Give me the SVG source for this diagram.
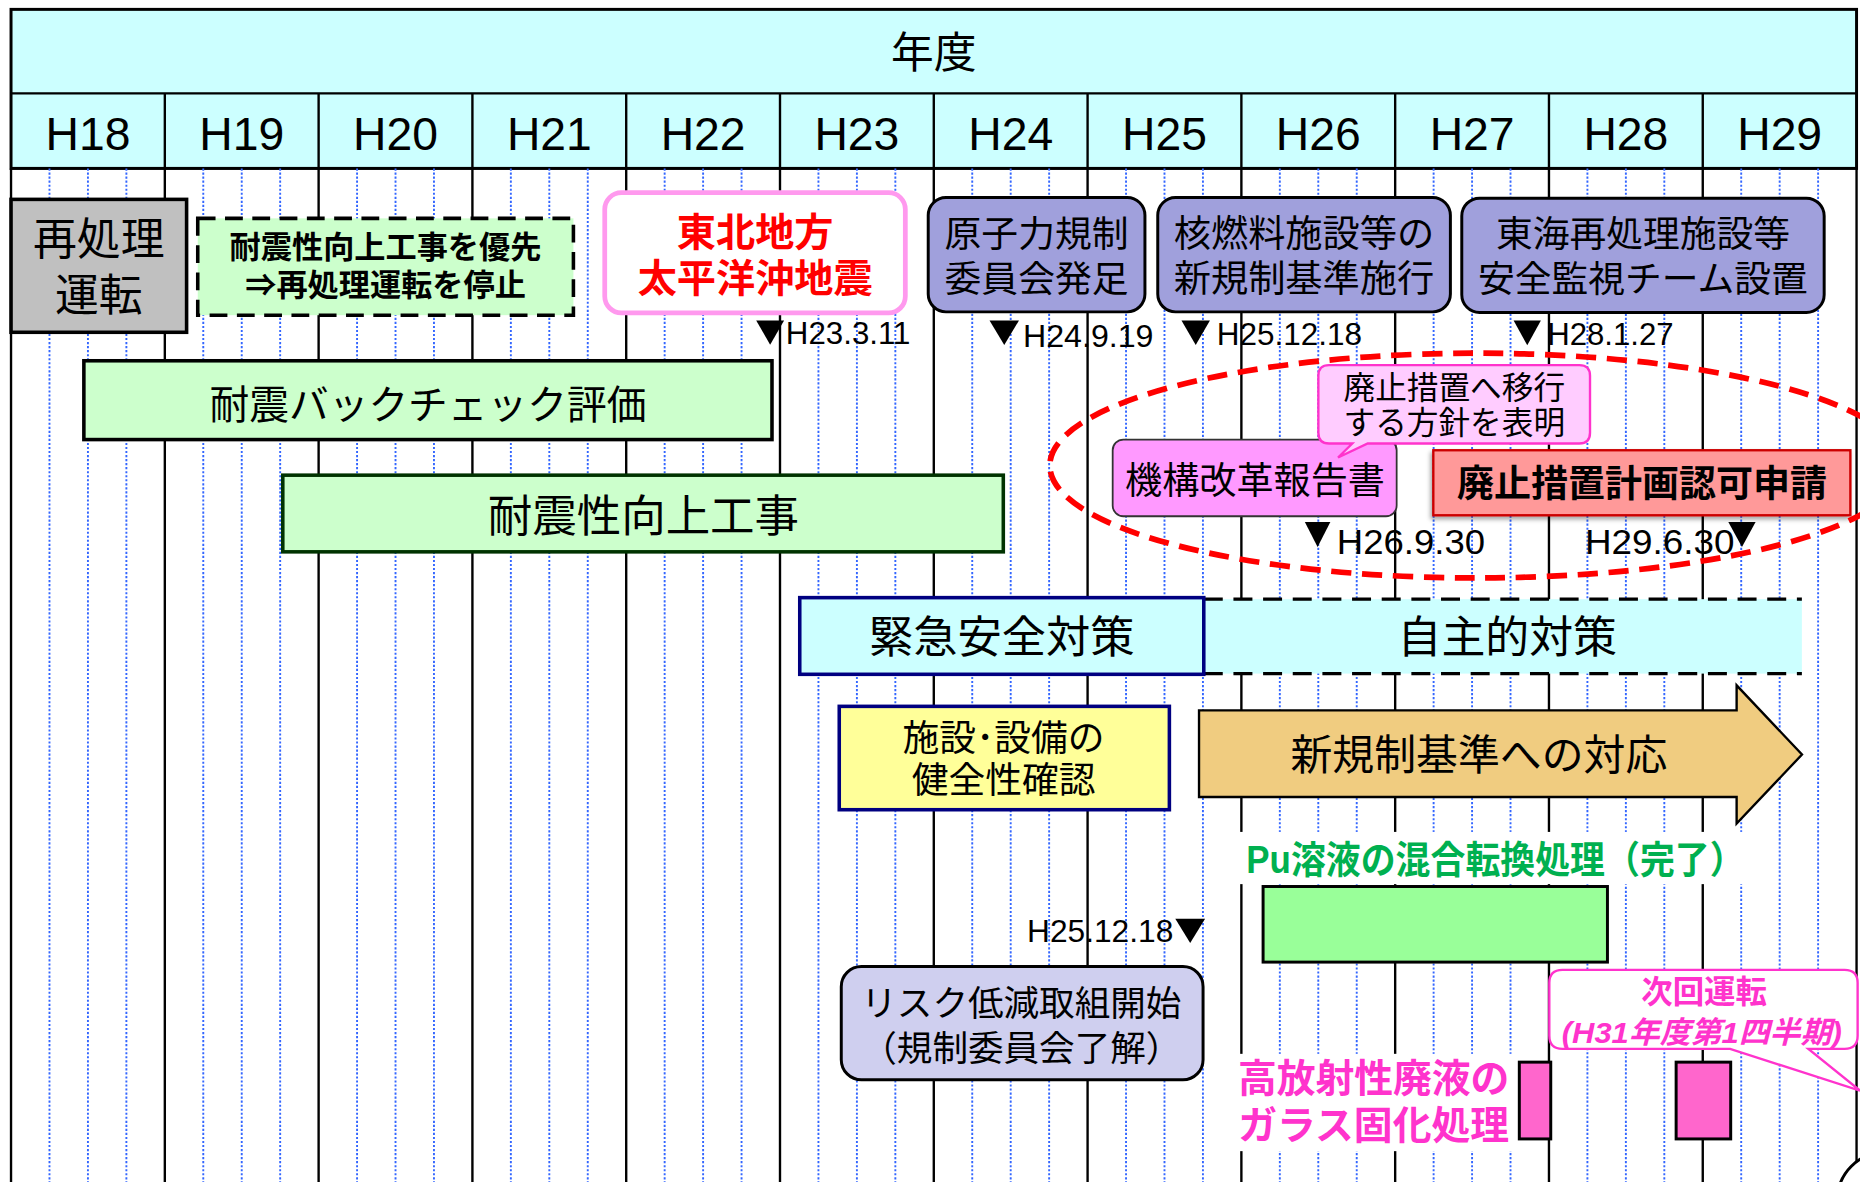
<svg xmlns="http://www.w3.org/2000/svg" width="1860" height="1182" viewBox="0 0 1860 1182">
<defs>
<style>
.cjk{font-family:"Noto Sans CJK JP","Noto Sans CJK SC",sans-serif}
.lat{font-family:"Liberation Sans",Arial,sans-serif}
.mix{font-family:"Liberation Sans","Noto Sans CJK JP",sans-serif}
text{text-anchor:middle;fill:#000}
.st{text-anchor:start}
.b{font-weight:bold}
.solid{stroke:#000;stroke-width:2;fill:none}
.dot{stroke:#3366FF;stroke-width:1.6;stroke-dasharray:1.8 1.6;fill:none}
.tri{fill:#000}
.green{fill:#CCFFCC}
.purple{fill:#A0A0DC;stroke:#000;stroke-width:2.5}
</style>
<filter id="sh" x="-10%" y="-30%" width="120%" height="160%">
<feDropShadow dx="-1.5" dy="2.5" stdDeviation="2" flood-color="#000" flood-opacity="0.35"/>
</filter>
</defs>
<rect x="0" y="0" width="1860" height="1182" fill="#fff"/>
<g transform="scale(1.18622,1.18675)">
<g id="header">
<rect x="9.3" y="7.9" width="1555.8" height="134" fill="#CCFFFF" stroke="#000" stroke-width="2.5"/>
<path class="solid" d="M9.3 78.7H1565.1M9.3 141.9H1565.1M138.95 78.7V141.9M268.6 78.7V141.9M398.25 78.7V141.9M527.9 78.7V141.9M657.55 78.7V141.9M787.2 78.7V141.9M916.85 78.7V141.9M1046.5 78.7V141.9M1176.15 78.7V141.9M1305.8 78.7V141.9M1435.45 78.7V141.9" stroke-width="2.5"/>
<text class="cjk" x="787.2" y="57.5" font-size="36">年度</text>
<g class="lat" font-size="39">
<text x="74.13" y="126">H18</text>
<text x="203.78" y="126">H19</text>
<text x="333.43" y="126">H20</text>
<text x="463.08" y="126">H21</text>
<text x="592.73" y="126">H22</text>
<text x="722.38" y="126">H23</text>
<text x="852.03" y="126">H24</text>
<text x="981.68" y="126">H25</text>
<text x="1111.33" y="126">H26</text>
<text x="1240.98" y="126">H27</text>
<text x="1370.63" y="126">H28</text>
<text x="1500.28" y="126">H29</text>
</g>
</g>
<g id="grid">
<path class="dot" d="M41.71 142V1000M74.13 142V1000M106.54 142V1000M171.36 142V1000M203.78 142V1000M236.19 142V1000M301.01 142V1000M333.43 142V1000M365.84 142V1000M430.66 142V1000M463.08 142V1000M495.49 142V1000M560.31 142V1000M592.73 142V1000M625.14 142V1000M689.96 142V1000M722.38 142V1000M754.79 142V1000M819.61 142V1000M852.03 142V1000M884.44 142V1000M949.26 142V1000M981.68 142V1000M1014.09 142V1000M1078.91 142V1000M1111.33 142V1000M1143.74 142V1000M1208.56 142V1000M1240.98 142V1000M1273.39 142V1000M1338.21 142V1000M1370.63 142V1000M1403.04 142V1000M1467.86 142V1000M1500.28 142V1000M1532.69 142V1000"/>
<path class="solid" d="M138.95 142V1000M268.6 142V1000M398.25 142V1000M527.9 142V1000M657.55 142V1000M787.2 142V1000M916.85 142V1000M1046.5 142V1000M1176.15 142V1000M1305.8 142V1000M1435.45 142V1000"/>
<path class="solid" d="M9.3 142V1000M1565.1 142V1000" stroke-width="2.5"/>
<rect x="1042" y="701" width="430" height="44" fill="#fff"/>
<rect x="1032" y="888" width="246" height="82" fill="#fff"/>
</g>
<g id="saishori-unten">
<rect x="9.3" y="168" width="148" height="112" fill="#C0C0C0" stroke="#000" stroke-width="3"/>
<text class="cjk" x="83.3" y="215" font-size="37">再処理</text>
<text class="cjk" x="83.3" y="262" font-size="37">運転</text>
</g>
<g id="yusen">
<rect x="166.7" y="184" width="316.7" height="81.6" class="green" stroke="#000" stroke-width="3" stroke-dasharray="15 8"/>
<text class="cjk b" x="325" y="217" font-size="26.3">耐震性向上工事を優先</text>
<text class="cjk b" x="325" y="249.5" font-size="26.3">⇒再処理運転を停止</text>
</g>
<g id="jishin">
<rect x="509.8" y="162.4" width="253.4" height="101.2" rx="14" fill="#fff" stroke="#FF99EE" stroke-width="4"/>
<text class="cjk b" x="636.6" y="207" font-size="33" style="fill:#FF0000">東北地方</text>
<text class="cjk b" x="636.6" y="246" font-size="33" style="fill:#FF0000">太平洋沖地震</text>
</g>
<g id="kisei-iinkai">
<rect x="782.5" y="166.4" width="182.7" height="96.4" rx="15" class="purple"/>
<text class="cjk" x="873.8" y="208.5" font-size="31">原子力規制</text>
<text class="cjk" x="873.8" y="246" font-size="31">委員会発足</text>
</g>
<g id="shin-kisei">
<rect x="976" y="166.4" width="246.7" height="96.4" rx="15" class="purple"/>
<text class="cjk" x="1099.3" y="208.5" font-size="31.4">核燃料施設等の</text>
<text class="cjk" x="1099.3" y="246" font-size="31.4">新規制基準施行</text>
</g>
<g id="kanshi-team">
<rect x="1232.3" y="167" width="305.5" height="96.3" rx="15" class="purple"/>
<text class="cjk" x="1385" y="208" font-size="31">東海再処理施設等</text>
<text class="cjk" x="1385" y="246" font-size="31">安全監視チーム設置</text>
</g>
<g id="dates-top">
<path class="tri" d="M637.5 270H661L649.25 290.5Z"/>
<text class="lat st" x="662.5" y="289.5" font-size="26" textLength="105" lengthAdjust="spacingAndGlyphs">H23.3.11</text>
<path class="tri" d="M834.2 270H859L846.6 290.8Z"/>
<text class="lat st" x="862.4" y="292" font-size="26.5" textLength="110" lengthAdjust="spacingAndGlyphs">H24.9.19</text>
<path class="tri" d="M996 270H1020L1008 290.8Z"/>
<text class="lat st" x="1025.8" y="291" font-size="26.5" textLength="122.4" lengthAdjust="spacingAndGlyphs">H25.12.18</text>
<path class="tri" d="M1276 270H1299L1287.5 291Z"/>
<text class="lat st" x="1304.3" y="291" font-size="26.5" textLength="106.5" lengthAdjust="spacingAndGlyphs">H28.1.27</text>
</g>
<g id="backcheck">
<rect x="70.7" y="304" width="580.1" height="66.4" class="green" stroke="#000" stroke-width="3"/>
<text class="cjk" x="360.8" y="353" font-size="33.5">耐震バックチェック評価</text>
</g>
<g id="kouji">
<rect x="238.4" y="400.4" width="607.4" height="64.6" class="green" stroke="#003300" stroke-width="3"/>
<text class="cjk" x="542.4" y="448" font-size="37.5">耐震性向上工事</text>
</g>
<g id="kikou-kaikaku">
<rect x="938" y="370.4" width="239.4" height="64.6" rx="9" fill="#FF99FF" stroke="#333" stroke-width="1.5"/>
<text class="cjk" x="1058" y="416" font-size="31.3">機構改革報告書</text>
</g>
<g id="houshin">
<path d="M1120.4 307.7H1331.4Q1340.4 307.7 1340.4 316.7V364.7Q1340.4 373.7 1331.4 373.7H1153L1128 385.5L1140 373.7H1120.4Q1111.4 373.7 1111.4 364.7V316.7Q1111.4 307.7 1120.4 307.7Z" fill="#FFCCFF" stroke="#FF33CC" stroke-width="2"/>
<text class="cjk" x="1226" y="336.5" font-size="26.7">廃止措置へ移行</text>
<text class="cjk" x="1226" y="366" font-size="26.7">する方針を表明</text>
</g>
<g id="shinsei">
<rect x="1208.3" y="379.4" width="351.6" height="54.8" fill="#FF9999" stroke="#CC0000" stroke-width="2" filter="url(#sh)"/>
<text class="cjk b" x="1384.2" y="419" font-size="31.2">廃止措置計画認可申請</text>
</g>
<g id="haishi-ellipse">
<ellipse cx="1245" cy="392.3" rx="360" ry="94.7" fill="none" stroke="#FF0000" stroke-width="4.8" stroke-dasharray="17 9"/>
</g>
<g id="dates-mid">
<path class="tri" d="M1100 439.8H1121.5L1110.75 461Z"/>
<text class="lat st" x="1126.9" y="466.5" font-size="30" textLength="125" lengthAdjust="spacingAndGlyphs">H26.9.30</text>
<text class="lat st" x="1336.2" y="466.5" font-size="30" textLength="126" lengthAdjust="spacingAndGlyphs">H29.6.30</text>
<path class="tri" d="M1457 439.8H1480L1468.5 461Z"/>
</g>
<g id="jishu">
<rect x="1014.8" y="504.9" width="504.2" height="62.7" fill="#CCFFFF"/>
<path d="M1014.8 504.9H1519M1014.8 567.6H1519" stroke="#000" stroke-width="2.8" stroke-dasharray="16 9" fill="none"/>
<text class="cjk" x="1270.6" y="550" font-size="37">自主的対策</text>
</g>
<g id="kinkyu">
<rect x="674.2" y="503.6" width="340.6" height="64.6" fill="#CCFFFF" stroke="#000080" stroke-width="3"/>
<text class="cjk" x="844.5" y="550" font-size="37.3">緊急安全対策</text>
</g>
<g id="kenzensei">
<rect x="707.5" y="595.2" width="278.3" height="87.1" fill="#FFFF99" stroke="#000080" stroke-width="3"/>
<text class="cjk" x="846" y="633" font-size="31">施設･設備の</text>
<text class="cjk" x="846" y="668" font-size="31">健全性確認</text>
</g>
<g id="shin-kisei-taiou">
<path d="M1010.8 598.6H1464V577.5L1519.1 635.8L1464 694V671.6H1010.8Z" fill="#F0CC80" stroke="#000" stroke-width="2"/>
<text class="cjk" x="1246.7" y="649" font-size="35.3">新規制基準への対応</text>
</g>
<g id="pu">
<text class="mix b st" x="1050.7" y="736" font-size="32" textLength="420" lengthAdjust="spacingAndGlyphs" style="fill:#00B050">Pu溶液の混合転換処理（完了）</text>
<rect x="1064.8" y="747" width="290.3" height="63.7" fill="#99FF99" stroke="#000" stroke-width="2.5"/>
</g>
<g id="date-bottom">
<text class="lat st" x="865.8" y="794" font-size="26.5" textLength="123.3" lengthAdjust="spacingAndGlyphs">H25.12.18</text>
<path class="tri" d="M990.8 774.2H1015.9L1003.35 794.7Z"/>
</g>
<g id="risk">
<rect x="709.2" y="814.4" width="305" height="95.5" rx="17" fill="#CFCFEF" stroke="#000" stroke-width="2.5"/>
<text class="cjk" x="861" y="856.5" font-size="30">リスク低減取組開始</text>
<text class="cjk" x="861" y="894" font-size="30">（規制委員会了解）</text>
</g>
<g id="glass">
<text class="cjk b" x="1158" y="920.5" font-size="32.7" style="fill:#FF33CC">高放射性廃液の</text>
<text class="cjk b" x="1158" y="960" font-size="32.7" style="fill:#FF33CC">ガラス固化処理</text>
<rect x="1280.8" y="895" width="26.5" height="64.7" fill="#FF66CC" stroke="#000" stroke-width="2.5"/>
<rect x="1413" y="895" width="46" height="64.7" fill="#FF66CC" stroke="#000" stroke-width="2.5"/>
</g>
<g id="jikai-unten">
<path d="M1317.1 817.2H1555Q1566 817.2 1566 828.2V872.8Q1566 883.8 1555 883.8H1524.5L1568 919L1458.5 883.8H1317.1Q1306.1 883.8 1306.1 872.8V828.2Q1306.1 817.2 1317.1 817.2Z" fill="#fff" stroke="#FF33CC" stroke-width="2"/>
<text class="cjk b" x="1436.6" y="845.5" font-size="26.5" style="fill:#FF33CC">次回運転</text>
<text class="mix b" x="1434.6" y="879" font-size="25.5" font-style="italic" textLength="236" lengthAdjust="spacingAndGlyphs" style="fill:#FF33CC">(H31年度第1四半期)</text>
</g>
<g id="corner-circle">
<circle cx="1589" cy="1011" r="40" fill="#fff" stroke="#000" stroke-width="2.5"/>
</g>
</g>
</svg>
